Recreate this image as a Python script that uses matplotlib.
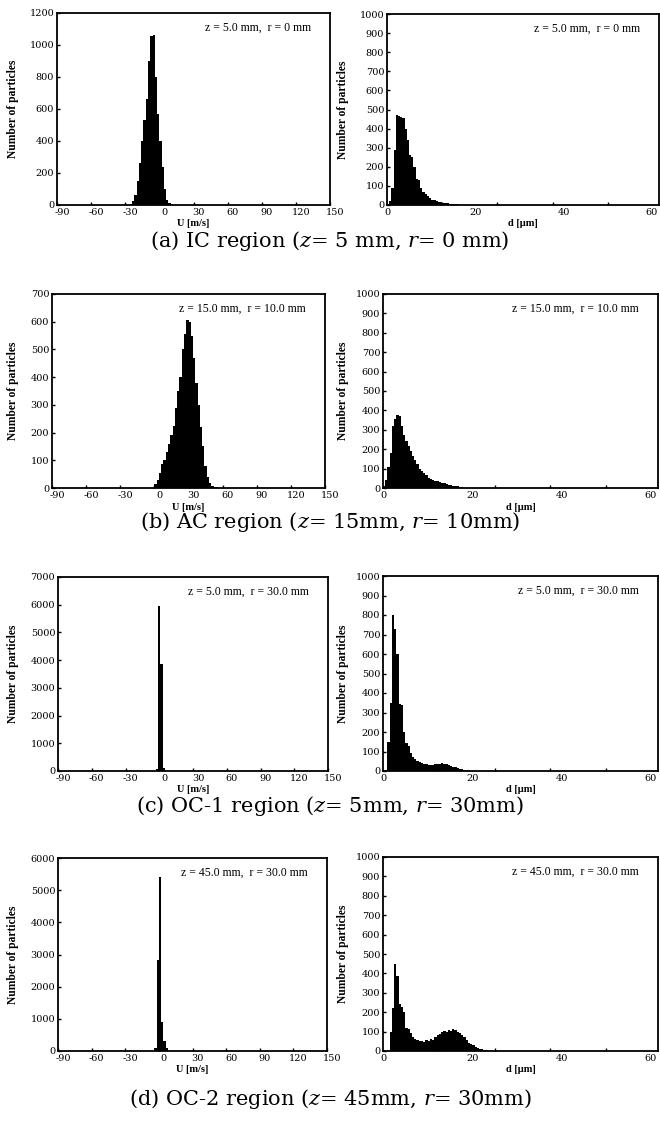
"""
Particle velocity / diameter histograms for four spray regions
(IC, AC, OC-1, OC-2). Left column: axial velocity U, right column: diameter d.
"""

import matplotlib.pyplot as plt
from matplotlib.ticker import FixedLocator
from matplotlib.transforms import ScaledTranslation

plt.rcParams["font.family"] = ["Liberation Serif", "DejaVu Serif"]
plt.rcParams["mathtext.fontset"] = "dejavuserif"
plt.rcParams["axes.unicode_minus"] = False

# ---------------------------------------------------------------------------
# Data (bin left edges and counts)
# ---------------------------------------------------------------------------
U_BIN = 2.0   # m/s
D_BIN = 0.5   # um

# (a) IC region
u_a = [-26, -24, -22, -20, -18, -16, -14, -12, -10, -8, -6, -4, -2, 0, 2, 4, 6, 8, 10]
n_u_a = [6, 22, 60, 150, 260, 400, 530, 660, 900, 1055, 1065, 800, 570, 400, 240, 100, 30, 15, 5]

# (b) AC region
u_b = [0, 2, 4, 6, 8, 10, 12, 14, 16, 18, 20, 22, 24, 26, 28, 30, 32, 34, 36, 38,
       40, 42, 44, 46, 48, 50, 52, 54]
n_u_b = [15, 30, 55, 85, 102, 130, 160, 190, 225, 290, 350, 400, 500, 555, 605, 600,
         550, 470, 380, 300, 220, 150, 80, 40, 18, 8, 4, 2]

# (c) OC-1 region
u_c = [-3, -1, 1, 3]
n_u_c = [60, 5950, 3850, 110]

# (d) OC-2 region
u_d = [-4, -2, 0, 2, 4, 6]
n_u_d = [100, 2820, 5400, 900, 300, 80]

d_a = [0.0, 0.5, 1.0, 1.5, 2.0, 2.5, 3.0, 3.5, 4.0, 4.5, 5.0, 5.5, 6.0, 6.5, 7.0, 7.5,
       8.0, 8.5, 9.0, 9.5, 10.0, 10.5, 11.0, 11.5, 12.0, 12.5, 13.0, 13.5, 14.0, 14.5,
       15.0, 15.5, 16.0, 16.5, 17.0]
n_d_a = [5, 20, 90, 290, 470, 465, 460, 455, 400, 340, 260, 250, 200, 135, 130, 90,
         70, 55, 45, 35, 28, 25, 20, 18, 14, 12, 10, 8, 7, 5,
         4, 3, 2, 2, 1]

d_b = [0.0, 0.5, 1.0, 1.5, 2.0, 2.5, 3.0, 3.5, 4.0, 4.5, 5.0, 5.5, 6.0, 6.5, 7.0, 7.5,
       8.0, 8.5, 9.0, 9.5, 10.0, 10.5, 11.0, 11.5, 12.0, 12.5, 13.0, 13.5, 14.0, 14.5,
       15.0, 15.5, 16.0, 16.5, 17.0, 17.5, 18.0]
n_d_b = [10, 40, 110, 180, 320, 355, 375, 370, 320, 275, 240, 215, 190, 165, 145, 125,
         100, 90, 75, 65, 50, 45, 42, 38, 35, 30, 28, 25, 22, 18,
         15, 12, 10, 8, 6, 3, 2]

d_c = [0.5, 1.0, 1.5, 2.0, 2.5, 3.0, 3.5, 4.0, 4.5, 5.0, 5.5, 6.0, 6.5, 7.0, 7.5,
       8.0, 8.5, 9.0, 9.5, 10.0, 10.5, 11.0, 11.5, 12.0, 12.5, 13.0, 13.5, 14.0, 14.5,
       15.0, 15.5, 16.0, 16.5, 17.0, 17.5, 18.0, 18.5, 19.0, 19.5, 20.0]
n_d_c = [5, 150, 350, 800, 730, 600, 345, 340, 200, 145, 130, 90, 70, 60, 50,
         45, 40, 38, 35, 30, 30, 32, 35, 38, 35, 40, 35, 35, 32,
         28, 22, 18, 14, 10, 8, 6, 5, 3, 2, 2]

d_d = [1.5, 2.0, 2.5, 3.0, 3.5, 4.0, 4.5, 5.0, 5.5, 6.0, 6.5, 7.0, 7.5,
       8.0, 8.5, 9.0, 9.5, 10.0, 10.5, 11.0, 11.5, 12.0, 12.5, 13.0, 13.5, 14.0, 14.5,
       15.0, 15.5, 16.0, 16.5, 17.0, 17.5, 18.0, 18.5, 19.0, 19.5, 20.0, 20.5, 21.0,
       21.5, 22.0, 22.5, 23.0]
n_d_d = [100, 220, 450, 385, 240, 225, 200, 120, 115, 95, 70, 60, 55,
         52, 50, 48, 55, 52, 60, 55, 70, 80, 90, 100, 102, 98, 110,
         105, 112, 108, 100, 92, 80, 70, 58, 42, 38, 30, 22, 15,
         12, 8, 5, 3]

U_TICKS = [-90, -60, -30, 0, 30, 60, 90, 120, 150]
D_TICKS = [0, 20, 40, 60]
D_MINOR = [12.5, 25, 37.5, 50]

PANELS = [
    dict(u=u_a, nu=n_u_a, d=d_a, nd=n_d_a, uy=(1200, 200),
         note_l="z = 5.0 mm,  r = 0 mm", note_r="z = 5.0 mm,  r = 0 mm",
         caption=r"(a) IC region ($z$= 5 mm, $r$= 0 mm)"),
    dict(u=u_b, nu=n_u_b, d=d_b, nd=n_d_b, uy=(700, 100),
         note_l="z = 15.0 mm,  r = 10.0 mm", note_r="z = 15.0 mm,  r = 10.0 mm",
         caption=r"(b) AC region ($z$= 15mm, $r$= 10mm)"),
    dict(u=u_c, nu=n_u_c, d=d_c, nd=n_d_c, uy=(7000, 1000),
         note_l="z = 5.0 mm,  r = 30.0 mm", note_r="z = 5.0 mm,  r = 30.0 mm",
         caption=r"(c) OC-1 region ($z$= 5mm, $r$= 30mm)"),
    dict(u=u_d, nu=n_u_d, d=d_d, nd=n_d_d, uy=(6000, 1000),
         note_l="z = 45.0 mm,  r = 30.0 mm", note_r="z = 45.0 mm,  r = 30.0 mm",
         caption=r"(d) OC-2 region ($z$= 45mm, $r$= 30mm)"),
]

# ---------------------------------------------------------------------------
# Layout in pixels: (left, top, right, bottom)
# ---------------------------------------------------------------------------
W, H = 660, 1129
LEFT_BOX = [(57, 13, 330, 205), (52, 294, 325, 488), (58, 577, 328, 771), (58, 858, 327, 1051)]
RIGHT_BOX = [(387, 14, 659, 205), (383, 294, 658, 488), (383, 576, 658, 771), (383, 857, 658, 1051)]
XLABEL_GAP = 19
CAPTION_Y = [241, 522, 806, 1099]
YLABEL_X = (13, 343)

fig = plt.figure(figsize=(W / 100, H / 100), dpi=100)


def add_px_axes(box):
    left, top, right, bottom = box
    return fig.add_axes([left / W, 1 - bottom / H, (right - left) / W, (bottom - top) / H])


def style_axes(ax, box, note, xlabel, ylabel_x, label_shift):
    left, top, right, bottom = box
    for side in ax.spines.values():
        side.set_linewidth(1.3)
    ax.tick_params(direction="in", length=2.5, width=1.0, labelsize=7, pad=2)
    for lab in ax.get_yticklabels():
        lab.set_family("DejaVu Serif")
    # x tick labels sit a few pixels right of their tick, as in the source chart
    shift = ScaledTranslation(label_shift / 100, 0, fig.dpi_scale_trans)
    for lab in ax.get_xticklabels():
        lab.set_family("DejaVu Serif")
        lab.set_transform(lab.get_transform() + shift)
    ax.set_ylabel("Number of particles", fontsize=8.3, fontweight="bold")
    ax.yaxis.label.set_va("center")
    ax.yaxis.set_label_coords((ylabel_x - left) / (right - left), 0.5)
    ax.set_xlabel(xlabel, fontsize=7.5, fontweight="bold")
    ax.xaxis.label.set_va("center")
    ax.xaxis.set_label_coords(0.5, -XLABEL_GAP / (bottom - top))
    ax.text(0.93, 0.925, note, transform=ax.transAxes, ha="right", va="center",
            fontsize=8.5)


for i, p in enumerate(PANELS):
    # velocity histogram
    ax = add_px_axes(LEFT_BOX[i])
    ax.bar(p["u"], p["nu"], width=U_BIN, align="edge", color="black", linewidth=0)
    ax.set_xlim(-90, 150)
    ax.set_xticks(U_TICKS)
    ymax, ystep = p["uy"]
    ax.set_ylim(0, ymax)
    ax.set_yticks(range(0, ymax + 1, ystep))
    style_axes(ax, LEFT_BOX[i], p["note_l"], "U [m/s]", YLABEL_X[0], 5)

    # diameter histogram
    ax = add_px_axes(RIGHT_BOX[i])
    ax.bar(p["d"], p["nd"], width=D_BIN, align="edge", color="black", linewidth=0)
    ax.set_xlim(0, 61.6)
    ax.set_xticks(D_TICKS)
    ax.xaxis.set_minor_locator(FixedLocator(D_MINOR))
    ax.set_ylim(0, 1000)
    ax.set_yticks(range(0, 1001, 100))
    style_axes(ax, RIGHT_BOX[i], p["note_r"], "d [\u03bcm]", YLABEL_X[1], 3)
    ax.tick_params(axis="x", which="major", length=0)
    ax.tick_params(axis="x", which="minor", direction="in", length=2.5, width=1.0)

    fig.text(0.5, 1 - CAPTION_Y[i] / H, p["caption"], ha="center", va="center",
             fontsize=15, family="DejaVu Serif")

fig.savefig("out.png", dpi=100)
